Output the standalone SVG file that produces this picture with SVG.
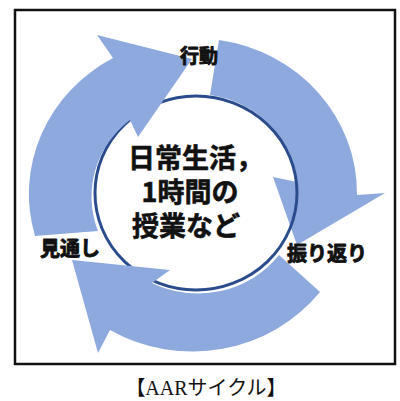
<svg xmlns="http://www.w3.org/2000/svg" width="400" height="401" viewBox="0 0 400 401">
<style>
.arrow{fill:#8EA9DE;stroke:none}
.lbl{font-family:"Noto Sans CJK JP",sans-serif;font-weight:700;fill:#111;stroke:#111;stroke-width:0.9px;stroke-linejoin:round}
.ctr{font-family:"Noto Sans CJK JP",sans-serif;font-weight:700;font-size:27px;fill:#111;stroke:#111;stroke-width:0.6px;stroke-linejoin:round}
.cap{font-family:"Liberation Serif","Noto Sans CJK JP",serif;font-size:20px;fill:#111}
</style>
<rect x="0" y="0" width="400" height="401" fill="#fff"/>
<rect id="frame" x="15" y="10" width="380" height="354" fill="none" stroke="#111" stroke-width="2.5"/>
<g id="center">
<ellipse cx="196" cy="193" rx="101" ry="97" fill="#fff"/>
</g>
<g id="connectors">
<path id="arrow-act-review" class="arrow" d="M219,40 A162,155 0 0 1 357,195 L385,193 L297,245 L273,177 L297,182 A102,98 0 0 0 210,95 Z"/>
<ellipse cx="196" cy="193" rx="101" ry="97" fill="none" stroke="#2B4C8C" stroke-width="3"/>
<path id="arrow-plan-act" class="arrow" d="M35,236 A162,155 0 0 1 113,58 L97,35 L192,59 L138,137 L130,120 A102,98 0 0 0 98,231 Z"/>
<path id="arrow-review-plan" class="arrow" d="M320,292 A162,155 0 0 1 110,330 L98,353 L72,260 L170,270 L152,283 A102,98 0 0 0 279,255 Z"/>
</g>
<g id="center-text">
<text class="ctr" x="128" y="168">日常生活，</text>
<text class="ctr" x="190" y="202" text-anchor="middle">1時間の</text>
<text class="ctr" x="132" y="236">授業など</text>
</g>
<g id="node-act"><text class="lbl" x="199" y="63" font-size="19" text-anchor="middle">行動</text></g>
<g id="node-review"><text class="lbl" x="327" y="261" font-size="20" text-anchor="middle">振り返り</text></g>
<g id="node-plan"><text class="lbl" x="70" y="256" font-size="20" text-anchor="middle">見通し</text></g>
<g id="caption"><text class="cap" x="206" y="395" text-anchor="middle">【AARサイクル】</text></g>
</svg>
